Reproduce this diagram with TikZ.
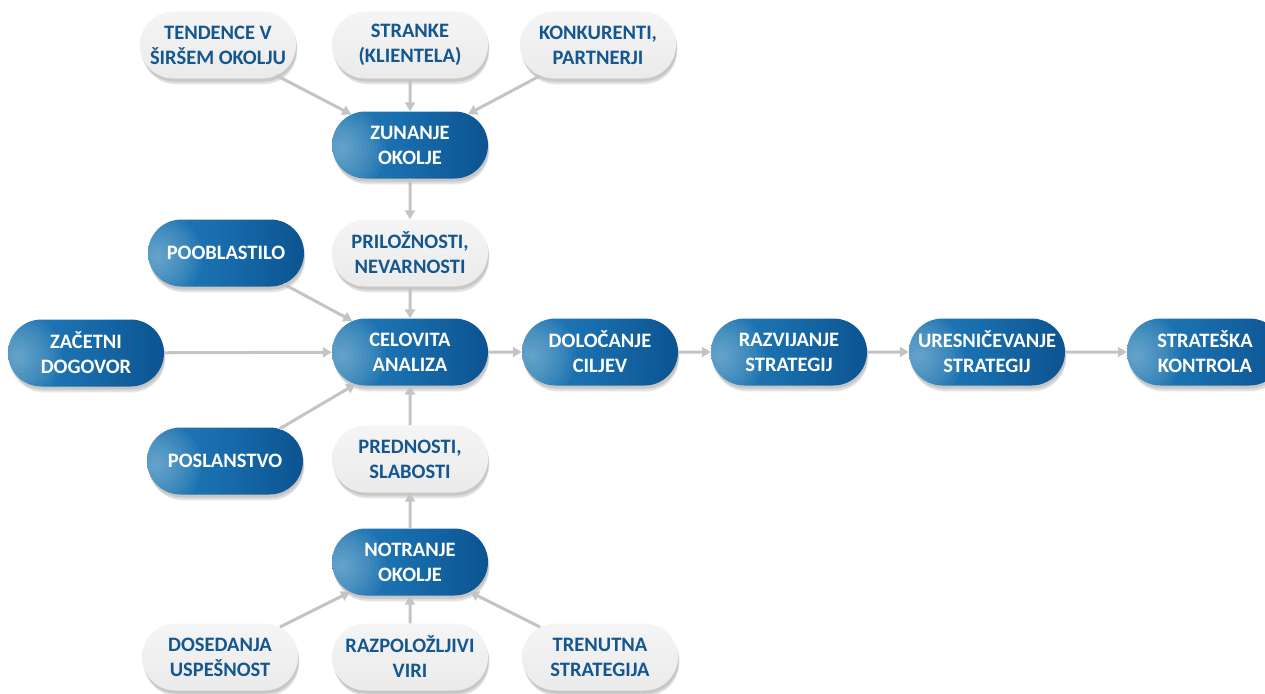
\documentclass[tikz,border=0pt]{standalone}
\usepackage{fontspec}
\setmainfont{Carlito}
\usetikzlibrary{shapes.misc,shadows,arrows.meta}
\definecolor{lb}{HTML}{B5DAEA}
\definecolor{mb2}{HTML}{2479B5}
\definecolor{mb}{HTML}{1A70AF}
\definecolor{db}{HTML}{0C5391}
\definecolor{txtblue}{HTML}{14568F}
\definecolor{arrowgray}{HTML}{C4C4C4}
\pgfdeclarehorizontalshading{bluegrad}{100bp}{color(0bp)=(mb2); color(25bp)=(mb2); color(45bp)=(mb); color(75bp)=(db); color(100bp)=(db)}
\tikzset{
  pill/.style={rounded rectangle, minimum width=156pt, minimum height=67pt, inner sep=0pt,
    align=center, font=\bfseries\fontsize{20.5}{25}\selectfont,
    drop shadow={shadow xshift=1pt, shadow yshift=-3pt, opacity=0.10, fill=black},
    drop shadow={shadow xshift=1.5pt, shadow yshift=-5pt, opacity=0.08, fill=black},
    drop shadow={shadow xshift=2pt, shadow yshift=-7pt, opacity=0.06, fill=black, shadow scale=0.98}},
  darkpill/.style={pill, shading=bluegrad, shading angle=0, text=white,
    path picture={\foreach \r in {44,40,...,4}{\fill[lb, opacity=0.055] ([xshift=10pt,yshift=-4pt]path picture bounding box.west) circle[radius=\r pt];}}},
  lightpill/.style={pill, top color=white!96!black, bottom color=white!92!black, text=txtblue},
  arr/.style={draw=arrowgray, line width=3pt, -{Triangle[length=9pt,width=10pt]}}
}
\begin{document}
\begin{tikzpicture}[x=1pt,y=-1pt]
\useasboundingbox (0,0) rectangle (1265,693);
\node[lightpill] (ten) at (218,45) {TENDENCE V\\ŠIRŠEM OKOLJU};
\node[lightpill] (str) at (410,45) {STRANKE\\(KLIENTELA)};
\node[lightpill] (kon) at (598,45) {KONKURENTI,\\PARTNERJI};
\node[darkpill] (zun) at (410,145) {ZUNANJE\\OKOLJE};
\node[lightpill] (pri) at (410,253) {PRILOŽNOSTI,\\NEVARNOSTI};
\node[darkpill] (poo) at (226,253) {POOBLASTILO};
\node[darkpill] (zac) at (86,353) {ZAČETNI\\DOGOVOR};
\node[darkpill] (cel) at (410,352) {CELOVITA\\ANALIZA};
\node[darkpill] (pos) at (225,461) {POSLANSTVO};
\node[lightpill] (pre) at (410,459) {PREDNOSTI,\\SLABOSTI};
\node[darkpill] (not) at (410,562) {NOTRANJE\\OKOLJE};
\node[lightpill] (dos) at (220,657) {DOSEDANJA\\USPEŠNOST};
\node[lightpill] (raz) at (410,657) {RAZPOLOŽLJIVI\\VIRI};
\node[lightpill] (tre) at (600,657) {TRENUTNA\\STRATEGIJA};
\node[darkpill] (dol) at (600,352) {DOLOČANJE\\CILJEV};
\node[darkpill] (rzv) at (789,352) {RAZVIJANJE\\STRATEGIJ};
\node[darkpill] (ure) at (987,352) {URESNIČEVANJE\\STRATEGIJ};
\node[darkpill] (sk) at (1205,352) {STRATEŠKA\\KONTROLA};
\draw[arr] (ten) -- (zun);
\draw[arr] (str) -- (zun);
\draw[arr] (kon) -- (zun);
\draw[arr] (zun) -- (pri);
\draw[arr] (pri) -- (cel);
\draw[arr] (poo) -- (cel);
\draw[arr] (zac) -- (cel);
\draw[arr] (pos) -- (cel);
\draw[arr] (pre) -- (cel);
\draw[arr] (not) -- (pre);
\draw[arr] (dos) -- (not);
\draw[arr] (raz) -- (not);
\draw[arr] (tre) -- (not);
\draw[arr] (cel) -- (dol);
\draw[arr] (dol) -- (rzv);
\draw[arr] (rzv) -- (ure);
\draw[arr] (ure) -- (sk);
\end{tikzpicture}
\end{document}
